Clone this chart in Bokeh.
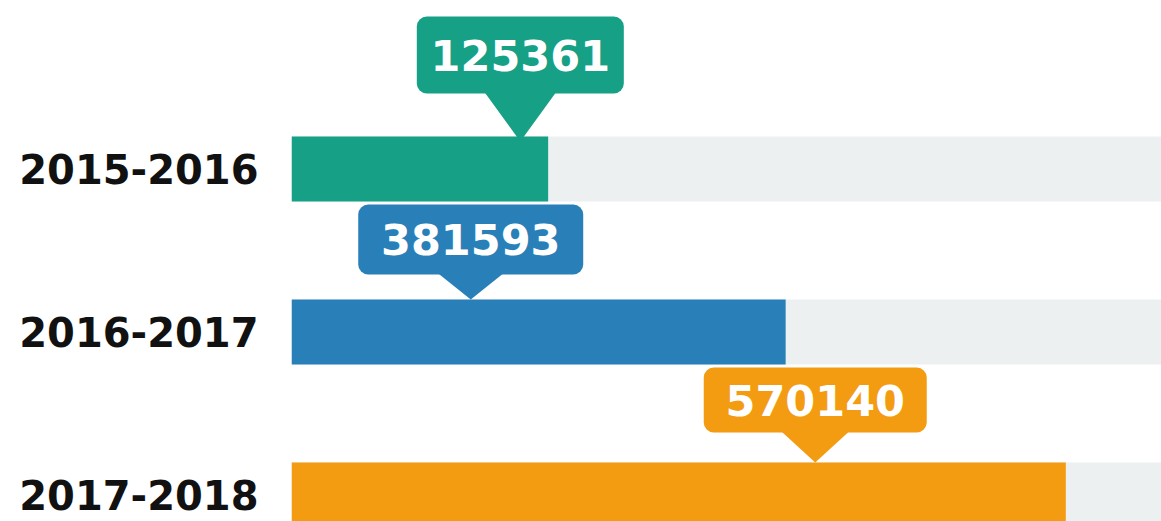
from bokeh.plotting import figure
from bokeh.models import Range1d, FixedTicker
from bokeh.core.properties import value
from bokeh.embed import file_html
from bokeh.resources import INLINE

# ---- data ----
periods = ["2015-2016", "2016-2017", "2017-2018"]
counts = [125361, 381593, 570140]
bar_fill = [0.295, 0.568, 0.890]     # filled share of the grey track
callout_at = [0.263, 0.206, 0.602]   # where each callout points along the track
colors = ["#16A085", "#2980B9", "#F39C12"]
track_color = "#ECF0F1"

# ---- layout (screen px) ----
box_w = [207, 225, 223]
box_h = [77, 70, 65]
box_gap = [43, 25, 30]
tip_gap = [5, 0, 0]
base_w = [74, 70, 72]

W, H = 1161, 521
LEFT = 291
FRAME_W = W - LEFT
ROW_PX = 163
BAR_PX = 65

n = len(periods)
ys = [n - 1 - i for i in range(n)]
y_lo = -26.5 / ROW_PX
y_hi = (n - 1) + 168.5 / ROW_PX

p = figure(width=W, height=H, output_backend="svg", toolbar_location=None,
           x_range=Range1d(0, 1), y_range=Range1d(y_lo, y_hi),
           x_axis_location=None, y_axis_location="left",
           min_border_left=LEFT, min_border_right=0, min_border_top=0, min_border_bottom=0)
p.outline_line_color = None
p.grid.visible = False
p.background_fill_color = "white"
p.border_fill_color = "white"

bh = BAR_PX / ROW_PX
p.hbar(y=ys, left=0, right=1, height=bh, fill_color=track_color, line_color=None)
p.hbar(y=ys, left=0, right=bar_fill, height=bh, fill_color=colors, line_color=None)

# callouts
lefts, rights, bottoms, tops, tx, ty, pxs, pys = [], [], [], [], [], [], [], []
for i in range(n):
    y = ys[i]
    at = callout_at[i]
    bar_top = y + (BAR_PX / 2) / ROW_PX
    b = bar_top + box_gap[i] / ROW_PX
    t = b + box_h[i] / ROW_PX
    hw = box_w[i] / 2 / FRAME_W
    lefts.append(at - hw); rights.append(at + hw)
    bottoms.append(b); tops.append(t)
    tx.append(at); ty.append((b + t) / 2)
    hb = base_w[i] / 2 / FRAME_W
    base_y = b + 3 / ROW_PX
    tip_y = bar_top - tip_gap[i] / ROW_PX
    pxs.append([at - hb, at + hb, at])
    pys.append([base_y, base_y, tip_y])

p.patches(xs=pxs, ys=pys, fill_color=colors, line_color=None)
p.quad(left=lefts, right=rights, bottom=bottoms, top=tops,
       fill_color=colors, line_color=None, border_radius=10)
p.text(x=tx, y=ty, text=[str(c) for c in counts], text_color="white",
       text_font=value("DejaVu Sans"), text_font_style="bold", text_font_size="43px",
       text_align="center", text_baseline="middle")

ax = p.yaxis[0]
ax.ticker = FixedTicker(ticks=ys)
ax.major_label_overrides = {ys[i]: periods[i] for i in range(n)}
ax.axis_line_color = None
ax.major_tick_line_color = None
ax.minor_tick_line_color = None
ax.major_tick_out = 0
ax.major_label_standoff = 33
ax.major_label_text_font = "DejaVu Sans"
ax.major_label_text_font_style = "bold"
ax.major_label_text_font_size = "40px"
ax.major_label_text_color = "#111111"

open("out.html", "w").write(file_html(p, INLINE))
